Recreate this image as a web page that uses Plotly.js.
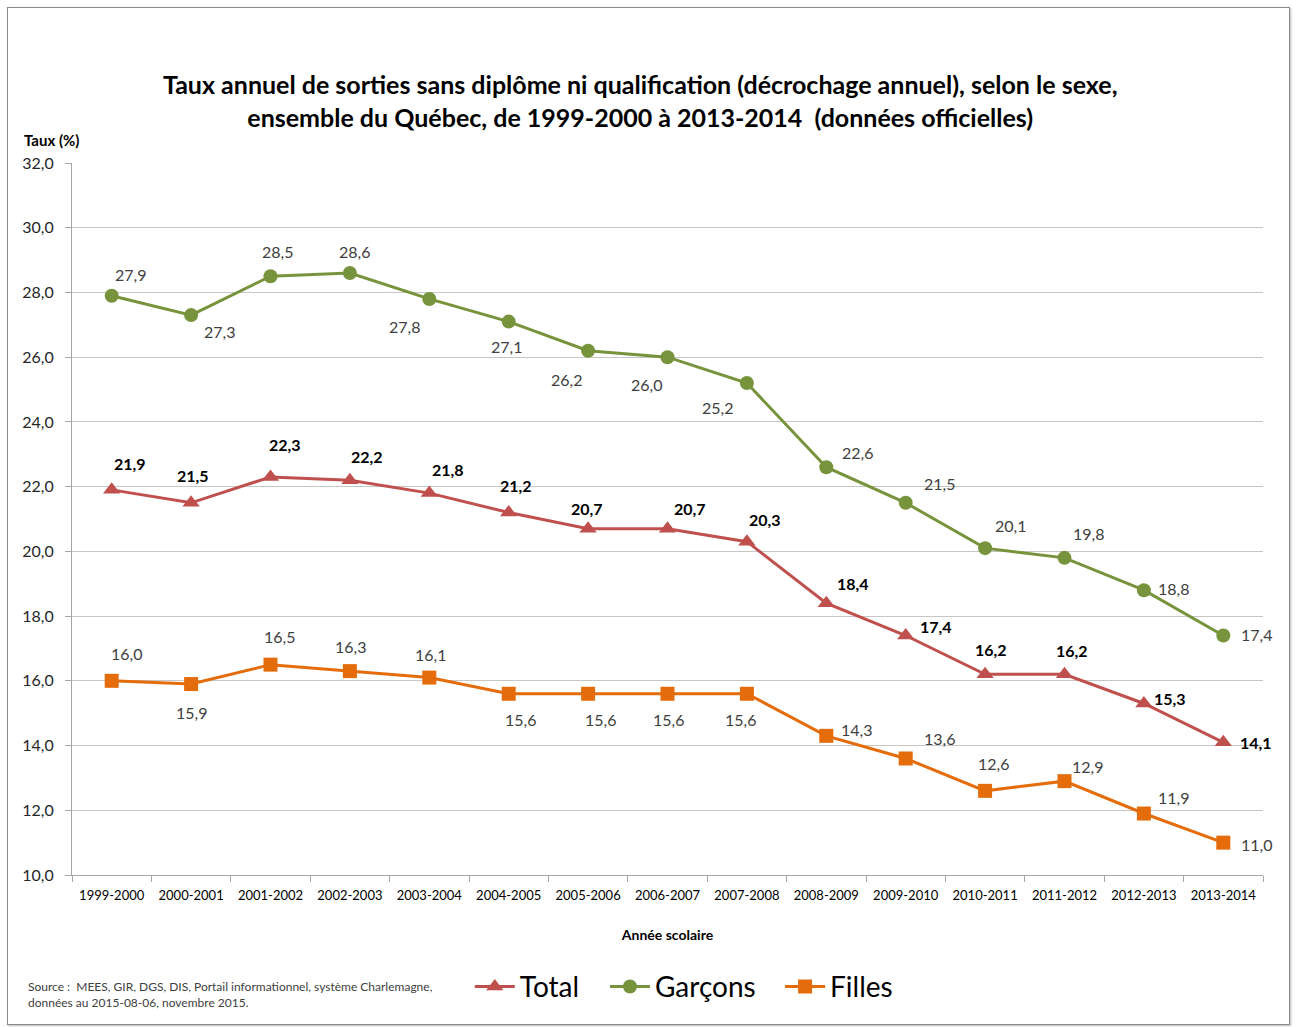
<!DOCTYPE html>
<html><head><meta charset="utf-8">
<script src="https://cdn.plot.ly/plotly-3.0.1.min.js"></script>
<style>
html,body{margin:0;padding:0;background:#fff;}
#wrap{position:relative;width:1296px;height:1027px;}
#chart{position:absolute;left:0;top:0;width:1296px;height:1027px;}
#frame{position:absolute;left:7px;top:7px;width:1281px;height:1016px;border:1px solid #8a8a8a;box-shadow:1px 1px 2px #bbb;pointer-events:none;}
</style></head>
<body><div id="wrap"><div id="chart"></div><div id="frame"></div></div>
<script>
const years = ["1999-2000","2000-2001","2001-2002","2002-2003","2003-2004","2004-2005","2005-2006","2006-2007","2007-2008","2008-2009","2009-2010","2010-2011","2011-2012","2012-2013","2013-2014"];
const total   = [21.9,21.5,22.3,22.2,21.8,21.2,20.7,20.7,20.3,18.4,17.4,16.2,16.2,15.3,14.1];
const garcons = [27.9,27.3,28.5,28.6,27.8,27.1,26.2,26.0,25.2,22.6,21.5,20.1,19.8,18.8,17.4];
const filles  = [16.0,15.9,16.5,16.3,16.1,15.6,15.6,15.6,15.6,14.3,13.6,12.6,12.9,11.9,11.0];
const yTicks = [10,12,14,16,18,20,22,24,26,28,30,32];

// label offsets in pixels [dx, dy] (dy positive = down), style only
const offTotal = [[18,-26],[2,-27],[14,-32],[17,-24],[19,-24],[7,-27],[-1,-20],[22,-20],[18,-22],[27,-20],[30,-9],[6,-25],[7,-24],[26,-5],[33,0]];
const offGarcons = [[19,-21],[28,16],[7,-25],[5,-22],[-25,28],[-2,25],[-22,29],[-21,27],[-29,24],[31,-15],[34,-19],[25,-23],[24,-24],[30,-2],[33,-1]];
const offFilles = [[15,-27],[0,28],[9,-28],[1,-25],[1,-23],[12,26],[12,26],[1,26],[-6,26],[30,-6],[34,-20],[8,-27],[23,-15],[30,-16],[33,2]];

const fmt = v => v.toFixed(1).replace('.', ',');
const FONT = "Lato, 'Open Sans', sans-serif";

const traces = [
  {name:"Total", x:years, y:total, type:"scatter", mode:"lines+markers", legend:"legend",
   line:{color:"#C0504D", width:3}, marker:{symbol:"triangle-up", size:15, color:"#C0504D"}, cliponaxis:false},
  {name:"Garçons", x:years, y:garcons, type:"scatter", mode:"lines+markers", legend:"legend2",
   line:{color:"#77933C", width:3}, marker:{symbol:"circle", size:14, color:"#77933C"}, cliponaxis:false},
  {name:"Filles", x:years, y:filles, type:"scatter", mode:"lines+markers", legend:"legend3",
   line:{color:"#E46C0A", width:3}, marker:{symbol:"square", size:14, color:"#E46C0A"}, cliponaxis:false}
];

function labels(vals, offs, font) {
  return vals.map((v, i) => ({
    x: years[i], y: v, xref:"x", yref:"y", text: fmt(v), showarrow:false,
    xanchor:"center", yanchor:"middle", xshift: offs[i][0], yshift: -offs[i][1], font: font
  }));
}

const legFont = {family:FONT, size:28, color:"#000"};
const legBase = {orientation:"h", y:-0.157, yanchor:"middle", xanchor:"left", font:legFont, itemwidth:40, bgcolor:"rgba(0,0,0,0)"};

const layout = {
  width:1296, height:1027,
  margin:{l:72, r:33, t:163, b:152},
  paper_bgcolor:"#fff", plot_bgcolor:"#fff",
  separators:", ",
  font:{family:FONT, color:"#404040"},
  showlegend:true,
  title:{text:"<b>Taux annuel de sorties sans diplôme ni qualification (décrochage annuel), selon le sexe,<br>ensemble du Québec, de 1999-2000 à 2013-2014  (données officielles)</b>",
    font:{family:FONT, size:25, color:"#000"}, x:0.494, xanchor:"center", y:0.908, yanchor:"middle"},
  xaxis:{type:"category", range:[-0.5,14.5], showgrid:false, showline:true, linecolor:"#a6a6a6", linewidth:1,
    ticks:"outside", ticklen:6, tickcolor:"#a6a6a6", tickson:"boundaries", ticklabelstandoff:8,
    tickfont:{family:FONT, size:13, color:"#000"},
    title:{text:"<b>Année scolaire</b>", font:{family:FONT, size:14, color:"#000"}, standoff:28}},
  yaxis:{range:[10,32], tickvals:yTicks, tickformat:".1f", showgrid:true, gridcolor:"#c6c6c6", gridwidth:1,
    showline:true, linecolor:"#a6a6a6", ticks:"outside", ticklen:6, tickcolor:"#a6a6a6", ticklabelstandoff:8,
    tickfont:{family:FONT, size:16, color:"#262626"}, zeroline:false},
  legend: Object.assign({}, legBase, {x:0.334}),
  legend2: Object.assign({}, legBase, {x:0.4475}),
  legend3: Object.assign({}, legBase, {x:0.5945}),
  annotations:[
    {text:"<b>Taux (%)</b>", xref:"paper", yref:"paper", x:-0.042, y:1.032, xanchor:"left", yanchor:"middle",
     showarrow:false, font:{family:FONT, size:15, color:"#000"}},
    {text:"Source :  MEES, GIR, DGS, DIS, Portail informationnel, système Charlemagne,<br>données au 2015-08-06, novembre 2015.",
     xref:"paper", yref:"paper", x:-0.039, y:-0.168, xanchor:"left", yanchor:"middle", align:"left",
     showarrow:false, font:{family:FONT, size:12, color:"#404040"}}
  ].concat(
    labels(total, offTotal, {family:FONT, size:16, color:"#000", weight:"bold"}),
    labels(garcons, offGarcons, {family:FONT, size:16, color:"#404040"}),
    labels(filles, offFilles, {family:FONT, size:16, color:"#404040"})
  )
};
Plotly.newPlot("chart", traces, layout, {displayModeBar:false, staticPlot:true});
</script></body></html>
